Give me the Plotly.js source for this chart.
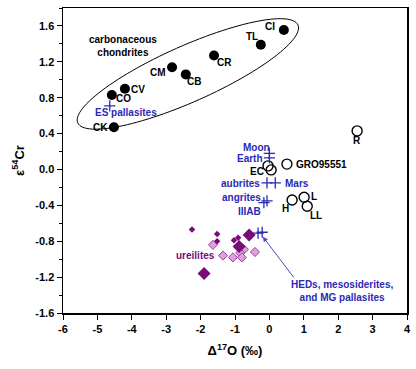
<!DOCTYPE html>
<html><head><meta charset="utf-8">
<script src="https://cdn.plot.ly/plotly-3.0.1.min.js"></script>
<style>html,body{margin:0;padding:0;background:#fff}</style>
</head><body><div id="chart" style="width:416px;height:369px"></div>
<script>
// Carbonaceous chondrites (filled black circles)
const ccNames = ['CI','TL','CR','CM','CB','CV','CO','CK'];
const ccX = [0.42,-0.25,-1.61,-2.83,-2.43,-4.20,-4.58,-4.52];
const ccY = [1.555,1.39,1.27,1.14,1.06,0.90,0.83,0.47];
// Other chondrites (open circles)
const ocNames = ['EH','EL','GRO95551','H','L','LL','R'];
const ocX = [-0.04,0.05,0.51,0.66,1.01,1.10,2.55];
const ocY = [0.04,-0.005,0.06,-0.34,-0.31,-0.41,0.43];
// Differentiated bodies (blue crosses)
const crossNames = ['ES pallasites','Moon','Earth','aubrites','Mars','angrites','IIIAB','HEDs','mesosiderites'];
const crossX = [-4.64,0.0,0.0,-0.07,0.17,-0.07,-0.16,-0.33,-0.21];
const crossY = [0.71,0.18,0.13,-0.15,-0.15,-0.35,-0.37,-0.71,-0.70];
// Ureilites
const ureLargeX = [-0.59,-0.88,-1.90];
const ureLargeY = [-0.73,-0.86,-1.16];
const ureSmallX = [-2.25,-1.52,-1.52,-1.03,-0.91];
const ureSmallY = [-0.67,-0.72,-0.80,-0.79,-0.76];
const ureLightX = [-1.64,-0.74,-0.42,-1.35,-1.06,-0.85,-0.80];
const ureLightY = [-0.84,-0.89,-0.92,-0.96,-0.98,-0.93,-0.98];
// Axis ticks
const xTicks = [-6,-5,-4,-3,-2,-1,0,1,2,3,4];
const yTicks = [-1.6,-1.2,-0.8,-0.4,0.0,0.4,0.8,1.2,1.6];

const BLUE = '#2a2ab4', PURPLE = '#7a0a7a', LIGHT = '#d9a3d9', LIGHTEDGE = '#a33da3';
const FONT = 'Liberation Sans, Arial, sans-serif';

const traces = [
  {x: ccX, y: ccY, text: ccNames, mode: 'markers', type: 'scatter',
   marker: {symbol: 'circle', size: 10, color: '#000'}},
  {x: ocX, y: ocY, text: ocNames, mode: 'markers', type: 'scatter',
   marker: {symbol: 'circle-open', size: 10, color: '#000', line: {width: 1.4}}},
  {x: crossX, y: crossY, text: crossNames, mode: 'markers', type: 'scatter',
   marker: {symbol: 'cross-thin-open', size: 8, color: BLUE, line: {width: 1.3, color: BLUE}}},
  {x: ureLightX, y: ureLightY, mode: 'markers', type: 'scatter',
   marker: {symbol: 'diamond', size: 7, color: LIGHT, line: {width: 1, color: LIGHTEDGE}}},
  {x: ureSmallX, y: ureSmallY, mode: 'markers', type: 'scatter',
   marker: {symbol: 'diamond', size: 5, color: PURPLE}},
  {x: ureLargeX, y: ureLargeY, mode: 'markers', type: 'scatter',
   marker: {symbol: 'diamond', size: 10, color: PURPLE}}
];

// ellipse outline around carbonaceous chondrites (center, half-axes in data units)
const ec = [-2.37, 1.065], ea = [3.20, 0.546], eb = [0.332, -0.285];
let path = '';
for (let i = 0; i <= 120; i++) {
  const t = 2 * Math.PI * i / 120;
  const px = ec[0] + Math.cos(t) * ea[0] + Math.sin(t) * eb[0];
  const py = ec[1] + Math.cos(t) * ea[1] + Math.sin(t) * eb[1];
  path += (i === 0 ? 'M' : 'L') + px.toFixed(4) + ',' + py.toFixed(4);
}
path += 'Z';

function lab(text, x, y, color, opts) {
  return Object.assign({text: text, x: x, y: y, xref: 'x', yref: 'y', showarrow: false,
    font: {family: FONT, size: 10, color: color || '#000', weight: 'bold'}}, opts || {});
}

const annotations = [
  lab('carbonaceous<br>chondrites', -4.26, 1.38, '#000'),
  lab('CI', 0.22, 1.59, '#000', {xanchor: 'right'}),
  lab('TL', -0.51, 1.48),
  lab('CR', -1.30, 1.19),
  lab('CM', -3.24, 1.08),
  lab('CB', -2.20, 0.98),
  lab('CV', -3.81, 0.89),
  lab('CO', -4.25, 0.79),
  lab('CK', -4.90, 0.47),
  lab('ES pallasites', -4.18, 0.63, BLUE),
  lab('Moon', -0.37, 0.25, BLUE),
  lab('Earth', -0.55, 0.12, BLUE),
  lab('EC', -0.35, -0.02),
  lab('GRO95551', 0.72, 0.06, '#000', {xanchor: 'left'}),
  lab('aubrites', -0.22, -0.16, BLUE, {xanchor: 'right'}),
  lab('Mars', 0.40, -0.16, BLUE, {xanchor: 'left'}),
  lab('angrites', -0.20, -0.31, BLUE, {xanchor: 'right'}),
  lab('IIIAB', -0.18, -0.47, BLUE, {xanchor: 'right'}),
  lab('H', 0.47, -0.43),
  lab('L', 1.30, -0.30),
  lab('LL', 1.35, -0.51),
  lab('R', 2.54, 0.32),
  lab('ureilites', -2.14, -0.96, PURPLE),
  lab('HEDs, mesosiderites,<br>and MG pallasites', 2.10, -1.35, BLUE),
  {x: -0.19, y: -0.75, ax: 0.74, ay: -1.22, xref: 'x', yref: 'y', axref: 'x', ayref: 'y',
   text: '', showarrow: true, arrowhead: 2, arrowsize: 1, arrowwidth: 1, arrowcolor: '#4a4ac0', standoff: 0}
];

const axisFont = {family: FONT, size: 11, color: '#000', weight: 'bold'};
const layout = {
  width: 416, height: 369,
  margin: {l: 63, r: 9, t: 8, b: 56},
  paper_bgcolor: '#fff', plot_bgcolor: '#fff',
  showlegend: false,
  xaxis: {
    range: [-6, 4], tickvals: xTicks, ticktext: xTicks.map(String),
    ticks: 'outside', ticklen: 5, tickwidth: 1, tickcolor: '#000',
    showline: true, linecolor: '#000', linewidth: 1.5, mirror: true,
    showgrid: false, zeroline: false, tickfont: axisFont,
    title: {text: 'Δ<sup>17</sup>O (‰)', font: {family: FONT, size: 13, color: '#000', weight: 'bold'}, standoff: 12}
  },
  yaxis: {
    range: [-1.6, 1.8], tickvals: yTicks, ticktext: yTicks.map(v => v.toFixed(1)),
    ticks: 'outside', ticklen: 5, tickwidth: 1, tickcolor: '#000',
    minor: {dtick: 0.2, tick0: 0, ticks: 'outside', ticklen: 3, tickcolor: '#000', showgrid: false},
    showline: true, linecolor: '#000', linewidth: 1.5, mirror: true,
    showgrid: false, zeroline: false, tickfont: axisFont,
    title: {text: 'ε<sup>54</sup>Cr', font: {family: FONT, size: 13, color: '#000', weight: 'bold'}, standoff: 8}
  },
  shapes: [{type: 'path', path: path, xref: 'x', yref: 'y', line: {color: '#000', width: 1}, layer: 'below'}],
  annotations: annotations
};

Plotly.newPlot('chart', traces, layout, {displayModeBar: false, staticPlot: true});
</script>
</body></html>
